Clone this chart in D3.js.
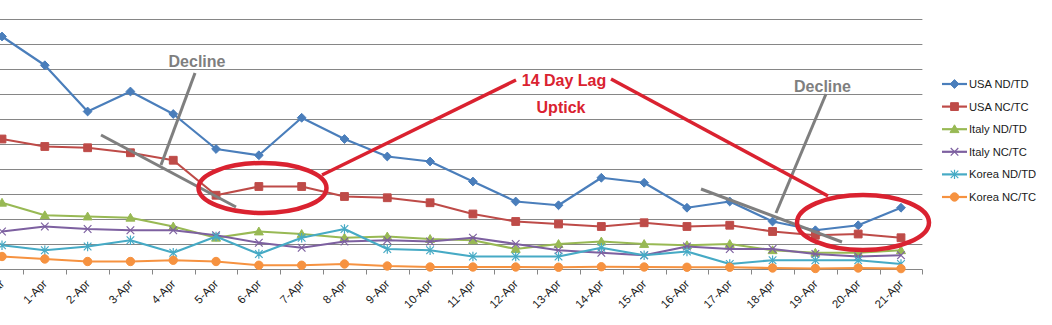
<!DOCTYPE html>
<html>
<head>
<meta charset="utf-8">
<script src="https://cdn.jsdelivr.net/npm/d3@7/dist/d3.min.js"></script>
<style>
  html, body { margin: 0; padding: 0; background: #ffffff; }
  svg { display: block; font-family: "Liberation Sans", Arial, sans-serif; }
</style>
</head>
<body>
<svg id="chart" width="1052" height="325"></svg>
<script>
// Daily ratios: new deaths / total deaths (ND/TD) and new cases / total cases (NC/TC)
const categories = ["31-Mar","1-Apr","2-Apr","3-Apr","4-Apr","5-Apr","6-Apr","7-Apr","8-Apr","9-Apr","10-Apr",
  "11-Apr","12-Apr","13-Apr","14-Apr","15-Apr","16-Apr","17-Apr","18-Apr","19-Apr","20-Apr","21-Apr"];

const usaNdTd   = [0.186,0.163,0.126,0.142,0.124,0.096,0.091,0.121,0.104,0.090,0.086,0.070,0.054,0.051,0.073,0.069,0.049,0.054,0.038,0.031,0.035,0.049];
const usaNcTc   = [0.104,0.098,0.097,0.093,0.087,0.059,0.066,0.066,0.058,0.057,0.053,0.044,0.038,0.036,0.034,0.037,0.034,0.035,0.030,0.027,0.028,0.025];
const italyNdTd = [0.053,0.043,0.042,0.041,0.034,0.025,0.030,0.028,0.025,0.026,0.024,0.023,0.016,0.020,0.022,0.020,0.019,0.020,0.015,0.013,0.013,0.015];
const italyNcTc = [0.030,0.034,0.032,0.031,0.031,0.027,0.021,0.017,0.022,0.023,0.022,0.025,0.020,0.015,0.013,0.011,0.018,0.016,0.016,0.012,0.010,0.011];
const koreaNdTd = [0.019,0.015,0.018,0.023,0.013,0.026,0.012,0.025,0.032,0.016,0.015,0.010,0.010,0.010,0.017,0.011,0.014,0.004,0.007,0.007,0.007,0.004];
const koreaNcTc = [0.010,0.008,0.006,0.006,0.007,0.006,0.003,0.003,0.004,0.0024,0.0016,0.0016,0.0016,0.0014,0.0018,0.0016,0.0014,0.0014,0.0008,0.0004,0.0008,0.0003];

const seriesNames = ["USA ND/TD","USA NC/TC","Italy ND/TD","Italy NC/TC","Korea ND/TD","Korea NC/TC"];
const yTicks = [0,0.02,0.04,0.06,0.08,0.10,0.12,0.14,0.16,0.18,0.20];

const series = [
  { name: seriesNames[0], values: usaNdTd,   color: "#4a7ebb", marker: "diamond" },
  { name: seriesNames[1], values: usaNcTc,   color: "#be4b48", marker: "square" },
  { name: seriesNames[2], values: italyNdTd, color: "#98b954", marker: "triangle" },
  { name: seriesNames[3], values: italyNcTc, color: "#7d60a0", marker: "x" },
  { name: seriesNames[4], values: koreaNdTd, color: "#46aac5", marker: "star" },
  { name: seriesNames[5], values: koreaNcTc, color: "#f69240", marker: "circle" }
];

const svg = d3.select("#chart");

// plot area (left edge runs past the window)
const plotLeft = -19.4, plotRight = 922.4, plotTop = 19, plotBottom = 269;

const x = d3.scaleBand().domain(categories).range([plotLeft, plotRight]).paddingInner(0).paddingOuter(0);
const xc = c => x(c) + x.bandwidth() / 2;
const y = d3.scaleLinear().domain([0, 0.2]).range([plotBottom, plotTop]);

// horizontal gridlines
svg.append("g").selectAll("line").data(yTicks.slice(1)).join("line")
  .attr("x1", plotLeft).attr("x2", plotRight)
  .attr("y1", d => Math.round(y(d)) + 0.5).attr("y2", d => Math.round(y(d)) + 0.5)
  .attr("stroke", "#868686").attr("stroke-width", 1);

// category axis with ticks on band boundaries
const xAxisG = svg.append("g").attr("transform", `translate(0,${plotBottom + 0.5})`);
xAxisG.append("line").attr("x1", plotLeft).attr("x2", plotRight)
  .attr("stroke", "#868686").attr("stroke-width", 1);
const boundaries = categories.map(c => x(c)).concat([plotRight]);
xAxisG.selectAll("line.tick").data(boundaries).join("line").attr("class", "tick")
  .attr("x1", d => Math.round(d) + 0.5).attr("x2", d => Math.round(d) + 0.5)
  .attr("y1", 0).attr("y2", 5).attr("stroke", "#868686");
xAxisG.selectAll("text").data(categories).join("text")
  .attr("transform", d => `translate(${xc(d) + 3},${15}) rotate(-45)`)
  .attr("text-anchor", "end")
  .attr("font-size", "11.5px").attr("fill", "#1a1a1a")
  .text(d => d);

// marker shapes
function markerPath(type) {
  switch (type) {
    case "diamond": return "M0,-4.4L4.4,0L0,4.4L-4.4,0Z";
    case "square": return "M-3.9,-3.9H3.9V3.9H-3.9Z";
    case "triangle": return "M0,-4.4L4.5,3.4H-4.5Z";
    case "x": return "M-3.8,-3.8L3.8,3.8M3.8,-3.8L-3.8,3.8";
    case "star": return "M-3.8,-3.8L3.8,3.8M3.8,-3.8L-3.8,3.8M0,-4.7V4.7";
    case "circle": return d3.symbol(d3.symbolCircle, 55)();
  }
}
const openMarker = t => t === "x" || t === "star";

const line = d3.line().x((d, i) => xc(categories[i])).y(d => y(d));

const seriesG = svg.append("g");
series.forEach(s => {
  const g = seriesG.append("g");
  g.append("path").datum(s.values).attr("d", line)
    .attr("fill", "none").attr("stroke", s.color).attr("stroke-width", 2.2)
    .attr("stroke-linejoin", "round");
  g.selectAll("path.m").data(s.values).join("path").attr("class", "m")
    .attr("transform", (d, i) => `translate(${xc(categories[i])},${y(d)})`)
    .attr("d", markerPath(s.marker))
    .attr("fill", openMarker(s.marker) ? "none" : s.color)
    .attr("stroke", s.color).attr("stroke-width", openMarker(s.marker) ? 1.2 : 1);
});

// legend
const legend = svg.append("g").attr("transform", "translate(942,84)");
const legItems = legend.selectAll("g").data(series).join("g")
  .attr("transform", (d, i) => `translate(0,${i * 22.6})`);
legItems.append("line").attr("x1", 0).attr("x2", 25).attr("y1", 0).attr("y2", 0)
  .attr("stroke", d => d.color).attr("stroke-width", 2.2);
legItems.append("path").attr("transform", "translate(12.5,0)")
  .attr("d", d => markerPath(d.marker))
  .attr("fill", d => openMarker(d.marker) ? "none" : d.color)
  .attr("stroke", d => d.color).attr("stroke-width", d => openMarker(d.marker) ? 1.2 : 1);
legItems.append("text").attr("x", 27).attr("y", 0).attr("dy", "0.36em")
  .attr("font-size", "11.2px").attr("fill", "#1a1a1a").text(d => d.name);

// callouts
const notes = svg.append("g");
const gray = "#7f7f7f", red = "#da2230";
const grayLines = [[195,73,161,165],[101,135,236,207],[826,94,776,213],[701,189,842,242]];
notes.selectAll("line.gray").data(grayLines).join("line").attr("class", "gray")
  .attr("x1", d => d[0]).attr("y1", d => d[1]).attr("x2", d => d[2]).attr("y2", d => d[3])
  .attr("stroke", gray).attr("stroke-width", 3);
notes.append("text").attr("x", 197).attr("y", 66.5).attr("text-anchor", "middle")
  .attr("font-size", "16px").attr("font-weight", "bold").attr("fill", gray).text("Decline");
notes.append("text").attr("x", 822.5).attr("y", 91.5).attr("text-anchor", "middle")
  .attr("font-size", "16px").attr("font-weight", "bold").attr("fill", gray).text("Decline");

const redLines = [[322,175,516,80],[611,79,828,196]];
notes.selectAll("line.red").data(redLines).join("line").attr("class", "red")
  .attr("x1", d => d[0]).attr("y1", d => d[1]).attr("x2", d => d[2]).attr("y2", d => d[3])
  .attr("stroke", red).attr("stroke-width", 3.5);
notes.append("ellipse").attr("cx", 262.5).attr("cy", 188).attr("rx", 64).attr("ry", 25)
  .attr("fill", "none").attr("stroke", red).attr("stroke-width", 4.5);
notes.append("ellipse").attr("cx", 863).attr("cy", 222.5).attr("rx", 66).attr("ry", 27.5)
  .attr("fill", "none").attr("stroke", red).attr("stroke-width", 4.5);
notes.append("text").attr("x", 564).attr("y", 86).attr("text-anchor", "middle")
  .attr("font-size", "16px").attr("font-weight", "bold").attr("fill", red).text("14 Day Lag");
notes.append("text").attr("x", 561).attr("y", 112.5).attr("text-anchor", "middle")
  .attr("font-size", "16px").attr("font-weight", "bold").attr("fill", red).text("Uptick");
</script>
</body>
</html>
